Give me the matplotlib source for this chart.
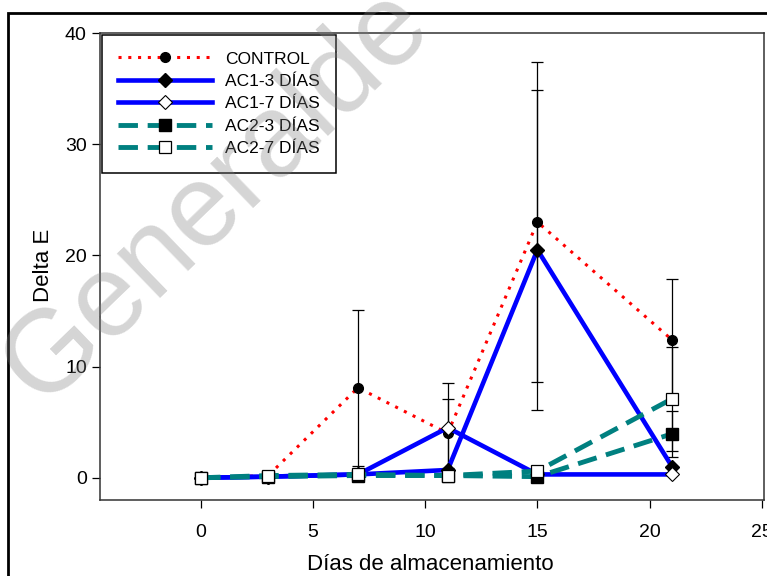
import numpy as np
from matplotlib import pyplot as plt
from matplotlib.patches import Rectangle

# Storage days and Delta E per treatment
days = [0, 3, 7, 11, 15, 21]

control = [0.0, 0.2, 8.1, 4.0, 23.0, 12.4]
control_err = [0.0, 0.0, 7.0, 3.1, 14.4, 5.5]

ac1_3 = [0.0, 0.1, 0.3, 0.7, 20.5, 1.0]
ac1_3_err = [0.0, 0.0, 0.0, 0.0, 14.4, 0.0]

ac1_7 = [0.0, 0.1, 0.3, 4.5, 0.3, 0.3]
ac1_7_err = [0.0, 0.0, 0.0, 4.0, 0.0, 0.0]

ac2_3 = [0.0, 0.1, 0.2, 0.2, 0.1, 3.95]
ac2_3_err = [0.0, 0.0, 0.0, 0.0, 0.0, 2.05]

ac2_7 = [0.0, 0.2, 0.3, 0.2, 0.6, 7.1]
ac2_7_err = [0.0, 0.0, 0.0, 0.0, 0.0, 4.7]

labels = ["CONTROL", "AC1-3 DÍAS", "AC1-7 DÍAS", "AC2-3 DÍAS", "AC2-7 DÍAS"]

x_ticks = [0, 5, 10, 15, 20, 25]
y_ticks = [0, 10, 20, 30, 40]

plt.rcParams['font.family'] = ['Liberation Sans', 'DejaVu Sans']

fig = plt.figure(figsize=(7.67, 5.76), dpi=100)
ax = fig.add_axes([100 / 767, 1 - 500 / 576, 664 / 767, 467 / 576])

series = [
    (control, control_err, dict(color='red', lw=2.2, ls=(0, (1, 2.2)), marker='o', ms=7,
                                mfc='black', mec='black')),
    (ac1_3, ac1_3_err, dict(color='blue', lw=3.3, ls='-', marker='D', ms=7,
                            mfc='black', mec='black')),
    (ac1_7, ac1_7_err, dict(color='blue', lw=3.3, ls='-', marker='D', ms=7,
                            mfc='white', mec='black', mew=0.8)),
    (ac2_3, ac2_3_err, dict(color='#008080', lw=3.5, ls=(0, (4, 2)), marker='s', ms=8,
                            mfc='black', mec='black')),
    (ac2_7, ac2_7_err, dict(color='#008080', lw=3.5, ls=(0, (4, 2)), marker='s', ms=8,
                            mfc='white', mec='black', mew=0.9)),
]

x = np.array(days)
for (vals, errs, style), label in zip(series, labels):
    vals = np.array(vals)
    errs = np.array(errs)
    has_err = errs > 0
    if has_err.any():
        # only the points that carry an error bar in the original
        ax.errorbar(x[has_err], vals[has_err], yerr=errs[has_err], fmt='none',
                    ecolor='black', elinewidth=0.9, capsize=4.5, capthick=0.9, zorder=2)
    ax.plot(x, vals, label=label, zorder=3, **style)

ax.set_xlim(-4.5, 25.1)
ax.set_ylim(-2, 40)
ax.set_xticks(x_ticks)
ax.set_yticks(y_ticks)
ax.tick_params(axis='both', direction='out', length=6, width=0.9, labelsize=14, colors='black')
ax.tick_params(axis='x', pad=11)
for spine in ax.spines.values():
    spine.set_linewidth(1.1)
    spine.set_edgecolor('#333333')

ax.set_xlabel('Días de almacenamiento', fontsize=16)
ax.set_ylabel('Delta E', fontsize=16)
ax.xaxis.set_label_coords(0.497, -0.115)
ax.yaxis.set_label_coords(-0.07, 0.503)

leg = ax.legend(loc='upper left', bbox_to_anchor=(0.003, 0.996), borderaxespad=0,
                fontsize=12.5, handlelength=5.4, handletextpad=0.75, labelspacing=0.42,
                borderpad=0.95, fancybox=False, framealpha=1, edgecolor='black')
leg.get_frame().set_linewidth(1.1)

# outer frame of the pasted figure, cut off on the right and at the bottom
fig.add_artist(Rectangle((8 / 767, -0.2), 1.2, 1.2 - 13 / 576, transform=fig.transFigure,
                         fill=False, edgecolor='black', lw=2))

# watermark across the figure
fig.text(216 / 767, 1 - 196 / 576, 'Generalde', fontsize=84, color='0.5', alpha=0.33,
         rotation=44, ha='center', va='center', zorder=10)

plt.savefig('out.png', dpi=100)
plt.close(fig)
